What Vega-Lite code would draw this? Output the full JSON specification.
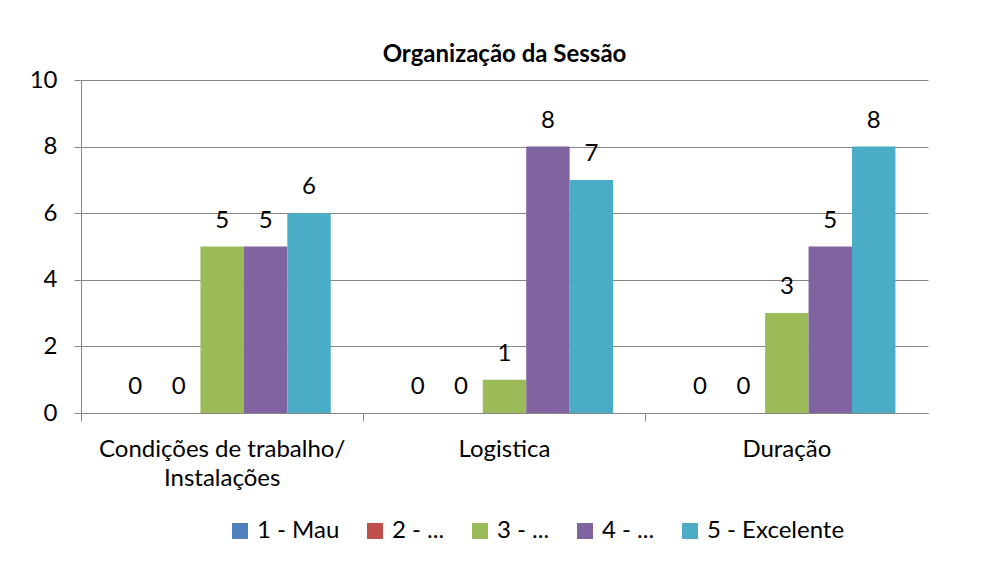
{
  "$schema": "https://vega.github.io/schema/vega-lite/v6.json",
  "width": 847,
  "height": 333,
  "autosize": "none",
  "padding": {"left": 81, "top": 80, "right": 53, "bottom": 172},
  "background": "white",
  "config": {
    "font": "Lato",
    "view": {"stroke": null},
    "axis": {"labelFont": "Lato", "labelColor": "black", "labelFontSize": 24},
    "legend": {"padding": 0}
  },
  "title": {
    "text": "Organização da Sessão",
    "font": "Lato",
    "fontSize": 24,
    "fontWeight": "bold",
    "color": "black",
    "anchor": "middle",
    "offset": 1
  },
  "data": {
    "values": [
      {"categoria": "Condições de trabalho/ Instalações", "avaliacao": "1 - Mau", "n": 0},
      {"categoria": "Condições de trabalho/ Instalações", "avaliacao": "2 - ...", "n": 0},
      {"categoria": "Condições de trabalho/ Instalações", "avaliacao": "3 - ...", "n": 5},
      {"categoria": "Condições de trabalho/ Instalações", "avaliacao": "4 - ...", "n": 5},
      {"categoria": "Condições de trabalho/ Instalações", "avaliacao": "5 - Excelente", "n": 6},
      {"categoria": "Logistica", "avaliacao": "1 - Mau", "n": 0},
      {"categoria": "Logistica", "avaliacao": "2 - ...", "n": 0},
      {"categoria": "Logistica", "avaliacao": "3 - ...", "n": 1},
      {"categoria": "Logistica", "avaliacao": "4 - ...", "n": 8},
      {"categoria": "Logistica", "avaliacao": "5 - Excelente", "n": 7},
      {"categoria": "Duração", "avaliacao": "1 - Mau", "n": 0},
      {"categoria": "Duração", "avaliacao": "2 - ...", "n": 0},
      {"categoria": "Duração", "avaliacao": "3 - ...", "n": 3},
      {"categoria": "Duração", "avaliacao": "4 - ...", "n": 5},
      {"categoria": "Duração", "avaliacao": "5 - Excelente", "n": 8}
    ]
  },
  "encoding": {
    "x": {
      "field": "categoria",
      "type": "nominal",
      "sort": null,
      "scale": {"paddingInner": 0, "paddingOuter": 0},
      "axis": {
        "title": null,
        "labelAngle": 0,
        "bandPosition": 0,
        "ticks": true,
        "tickSize": 8,
        "tickColor": "#868686",
        "domainColor": "#868686",
        "labelPadding": 16,
        "labelLineHeight": 29,
        "labelLimit": 400,
        "labelExpr": "datum.value == 'Condições de trabalho/ Instalações' ? ['Condições de trabalho/', 'Instalações'] : datum.value"
      }
    },
    "xOffset": {
      "field": "avaliacao",
      "type": "nominal",
      "sort": null,
      "scale": {"paddingInner": 0, "paddingOuter": 0.75}
    },
    "y": {
      "field": "n",
      "type": "quantitative",
      "scale": {"domain": [0, 10], "nice": false},
      "axis": {
        "title": null,
        "values": [0, 2, 4, 6, 8, 10],
        "grid": true,
        "gridColor": "#868686",
        "domainColor": "#868686",
        "tickColor": "#868686",
        "tickSize": 7,
        "labelPadding": 17
      }
    }
  },
  "layer": [
    {
      "mark": {"type": "bar"},
      "encoding": {
        "color": {
          "field": "avaliacao",
          "type": "nominal",
          "sort": null,
          "scale": {
            "domain": ["1 - Mau", "2 - ...", "3 - ...", "4 - ...", "5 - Excelente"],
            "range": ["#4F81BD", "#C0504D", "#9BBB59", "#8064A2", "#4BACC6"]
          },
          "legend": {
            "title": null,
            "orient": "none",
            "legendX": 147,
            "legendY": 439,
            "direction": "horizontal",
            "symbolType": "square",
            "symbolSize": 256,
            "symbolStrokeWidth": 0,
            "labelFont": "Lato",
            "labelFontSize": 24,
            "labelColor": "black",
            "labelOffset": 5,
            "columnPadding": 23
          }
        }
      }
    },
    {
      "mark": {"type": "text", "baseline": "middle", "dy": -26, "fontSize": 24, "font": "Lato", "color": "black"},
      "encoding": {
        "text": {"field": "n", "type": "quantitative"}
      }
    }
  ]
}
